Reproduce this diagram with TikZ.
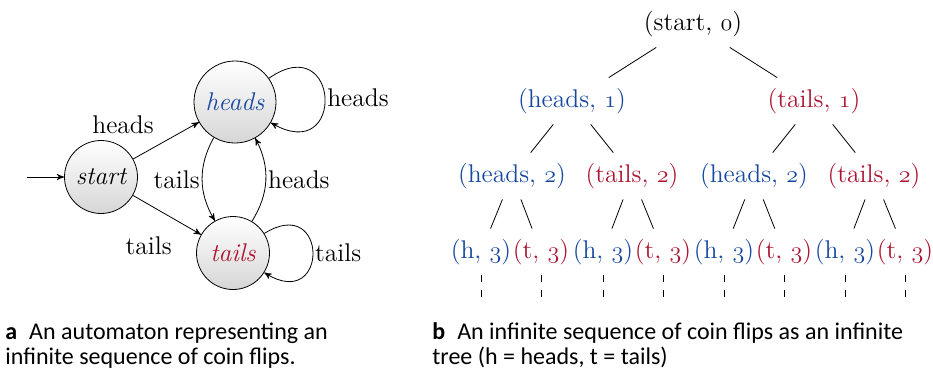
\documentclass[tikz,border=0pt]{standalone}
\usepackage{fontspec}
\setsansfont{Carlito}
\usetikzlibrary{arrows,positioning}

\definecolor{headsblue}{RGB}{22,72,160}
\definecolor{tailsred}{RGB}{172,20,48}

\tikzset{
  coin/.style={circle, draw, top color=white, bottom color=black!16,
    minimum size=36.5pt, inner sep=1pt, font=\fontsize{12.8}{15}\selectfont\itshape},
  lbl/.style={inner sep=1pt},
  tnode/.style={inner xsep=1pt, inner ysep=5.5pt, text height=9pt, text depth=3pt},
  dots/.style={dash pattern=on 3.5pt off 4pt},
  capbox/.style={font=\sffamily\fontsize{12}{12.6}\selectfont, align=left,
    inner sep=0pt, anchor=north west}
}
\newcommand{\osn}[1]{{\usefont{OML}{lmm}{m}{it}#1}}

\begin{document}
\begin{tikzpicture}[x=0.5pt,y=-0.5pt,>=stealth',font=\fontsize{12.8}{15}\selectfont]
\useasboundingbox (0,0) rectangle (933,376);

% automaton
\node[coin] (start) at (101,177) {start};
\node[coin, minimum size=41pt, text=headsblue] (heads) at (235,102) {heads};
\node[coin, text=tailsred] (tails) at (233,253) {tails};
\coordinate (init) at (27,177);

\draw[->] (init) -- (start);
\draw[->] (start) -- node[lbl, pos=0.35, above left=5pt and 0pt] {heads} (heads);
\draw[->] (start) -- node[lbl, pos=0.23, below=15pt] {tails} (tails);
\draw[->] (heads) to[bend right=30] node[lbl, left] {tails} (tails);
\draw[->] (tails) to[bend right=30] node[lbl, right] {heads} (heads);
\draw[->] (heads) to[out=35, in=-30, looseness=5] node[lbl, right] {heads} (heads);
\draw[->] (tails) to[out=32, in=-32, looseness=5] node[lbl, right] {tails} (tails);

% tree
\node[tnode] (r) at (693,24) {(start, \osn{0})};
\node[tnode, text=headsblue] (h1) at (572,101) {(heads, \osn{1})};
\node[tnode, text=tailsred] (t1) at (814,101) {(tails, \osn{1})};
\node[tnode, text=headsblue] (hh2) at (512,176) {(heads, \osn{2})};
\node[tnode, text=tailsred] (ht2) at (632,176) {(tails, \osn{2})};
\node[tnode, text=headsblue] (th2) at (754,176) {(heads, \osn{2})};
\node[tnode, text=tailsred] (tt2) at (874,176) {(tails, \osn{2})};

\foreach \p/\x in {hh2/481, ht2/603, th2/724, tt2/845} {
  \node[tnode, text=headsblue] (\p h) at (\x,252) {(h, \osn{3})};
  \node[tnode, text=tailsred] (\p t) at (\x+60,252) {(t, \osn{3})};
  \draw (\p) -- (\p h);
  \draw (\p) -- (\p t);
  \draw[dots] (\p h.south) -- ++(0,22);
  \draw[dots] (\p t.south) -- ++(0,22);
}

\draw (r) -- (h1);
\draw (r) -- (t1);
\draw (h1) -- (hh2);
\draw (h1) -- (ht2);
\draw (t1) -- (th2);
\draw (t1) -- (tt2);

% captions
\node[capbox] (capa) at (5,322) {\textbf{a}\enspace An automaton representing an\\infinite sequence of coin flips.};
\node[capbox] (capb) at (432,322) {\textbf{b}\enspace An infinite sequence of coin flips as an infinite\\tree (h = heads, t = tails)};

\end{tikzpicture}
\end{document}
